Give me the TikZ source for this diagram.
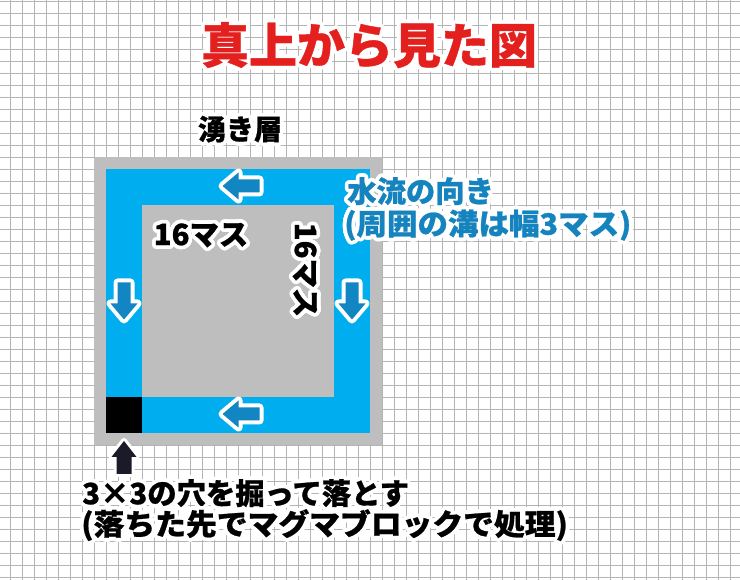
\documentclass[tikz,border=0pt]{standalone}
\usepackage{fontspec}
\newfontfamily\jpfont{Noto Sans CJK JP}[FakeBold=0.8]
\usepackage{contour}
\contourlength{2.8pt}
\contournumber{24}
\newcommand\halotext[1]{\contour{white}{#1}}
\definecolor{ttlred}{HTML}{E3201E}
\definecolor{chblue}{HTML}{00AEEF}
\definecolor{arrblue}{HTML}{1186C3}
\definecolor{wallgray}{HTML}{BEBEBE}
\definecolor{gridgray}{HTML}{B4B4B4}
\definecolor{txtblue}{HTML}{1583BE}
\definecolor{darkarr}{HTML}{1A1A28}
\tikzset{
  gridline/.style={gridgray, line width=0.6pt},
  flowshape/.style={fill=arrblue, preaction={draw=white, line width=6pt, line join=round}},
  holeshape/.style={fill=darkarr, preaction={draw=white, line width=4.5pt, line join=round}},
  flowarr/.pic={\path[flowshape] (-18.5,0) -- (-2.5,-13.5) -- (-2.5,-6.5) -- (18.5,-6.5) -- (18.5,6.5) -- (-2.5,6.5) -- (-2.5,13.5) -- cycle;},
  jptext/.style={inner sep=0pt, font=\jpfont\bfseries\fontsize{#1}{#1}\selectfont},
}
\begin{document}
\begin{tikzpicture}[x=0.75pt,y=-0.75pt]
\useasboundingbox (0,0) rectangle (740,580);
\fill[white] (0,0) rectangle (740,580);
\foreach \i in {0,...,61} \draw[gridline] ({10+12*\i},0) -- ({10+12*\i},580);
\foreach \j in {0,...,48} \draw[gridline] (0,{1+12*\j}) -- (740,{1+12*\j});
% walls and channel
\fill[wallgray] (94,157) rectangle (382,445);
\fill[chblue] (106,169) rectangle (370,433);
\fill[wallgray] (142,205) rectangle (334,397);
\fill[black] (106,397) rectangle (142,433);
% flow arrows
\pic at (241,186) {flowarr};
\pic at (241,414) {flowarr};
\pic[rotate=90] at (124,301) {flowarr};
\pic[rotate=90] at (352,301) {flowarr};
% hole arrow
\path[holeshape] (124,441) -- (136.5,457) -- (131.5,457) -- (131.5,474) -- (116.5,474) -- (116.5,457) -- (111.5,457) -- cycle;
% texts
\node[jptext=36, text=ttlred] (title) at (369,47) {\halotext{真上から見た図}};
\node[jptext=21] (spring) at (240,131) {\halotext{湧き層}};
\node[jptext=22, text=txtblue, anchor=west] (flowa) at (347,193) {\halotext{水流の向き}};
\node[jptext=22, text=txtblue, anchor=west, xscale=1.04, transform shape] (flowb) at (344,227) {\halotext{(周囲の溝は幅3マス)}};
\node[jptext=22] (sizeh) at (201,237) {\halotext{16マス}};
\node[jptext=22, rotate=-90] (sizev) at (303,270) {\halotext{16マス}};
\node[jptext=22, anchor=west] (holea) at (82,495) {\halotext{3×3の穴を掘って落とす}};
\node[jptext=22, anchor=west, xscale=1.05, transform shape] (holeb) at (81,527) {\halotext{(落ちた先でマグマブロックで処理)}};
\end{tikzpicture}
\end{document}
